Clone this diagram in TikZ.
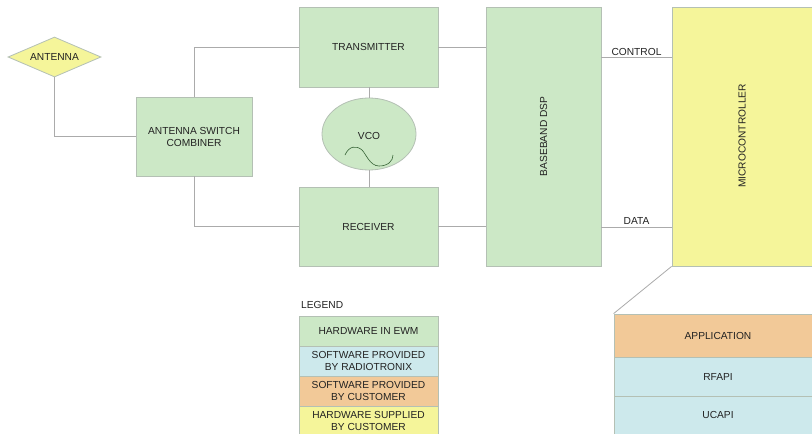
\documentclass[tikz,border=0pt]{standalone}
\usepackage{fontspec}
\setmainfont{Liberation Sans}
\usetikzlibrary{shapes.geometric}
\definecolor{hwgreen}{HTML}{CCE8C6}
\definecolor{hwyellow}{HTML}{F5F59A}
\definecolor{swblue}{HTML}{CDE9EC}
\definecolor{sworange}{HTML}{F2C998}
\definecolor{edge}{HTML}{B4C0B4}
\definecolor{wire}{HTML}{ABABAB}
\definecolor{txt}{HTML}{222222}
\tikzset{
  blk/.style={draw=edge, line width=0.8pt, inner sep=0pt, align=center, text=txt,
    font=\fontsize{10.2}{12}\selectfont},
  lbl/.style={inner sep=0pt, text=txt, font=\fontsize{10.2}{12}\selectfont, align=center},
  wireln/.style={draw=wire, line width=0.8pt},
}
\begin{document}
\begin{tikzpicture}[x=1pt,y=-1pt]
\clip (0,0) rectangle (812,434);
\fill[white] (0,0) rectangle (812,434);
% antenna
\node[blk, diamond, aspect=2.35, fill=hwyellow, minimum width=93, minimum height=40] (ant) at (54.5,57) {ANTENNA};
\node[blk, fill=hwgreen, minimum width=116, minimum height=79] (asc) at (194,136.5) {ANTENNA SWITCH\\COMBINER};
\node[blk, fill=hwgreen, minimum width=139, minimum height=80] (tx) at (368.5,47) {TRANSMITTER};
\node[blk, fill=hwgreen, minimum width=139, minimum height=79] (rx) at (368.5,226.5) {RECEIVER};
\node[blk, ellipse, fill=hwgreen, minimum width=94, minimum height=72] (vco) at (369,134) {};
\node[lbl] (vcot) at (369,136) {VCO};
\node[blk, fill=hwgreen, minimum width=115, minimum height=259] (dsp) at (543.5,136.5) {};
\node[lbl, rotate=90] (dspt) at (543.5,136.5) {BASEBAND DSP};
\node[blk, fill=hwyellow, minimum width=146, minimum height=259] (mcu) at (745,136.5) {};
\node[lbl, rotate=90] (mcut) at (742,136) {MICROCONTROLLER};
% stack
\node[blk, fill=sworange, minimum width=204, minimum height=43] (app) at (716,335.5) {};
\node[lbl] (appt) at (718,335.5) {APPLICATION};
\node[blk, fill=swblue, minimum width=204, minimum height=39] (rfapi) at (716,376.5) {};
\node[lbl] (rfapit) at (718,376.5) {RFAPI};
\node[blk, fill=swblue, minimum width=204, minimum height=44] (ucapi) at (716,418) {};
\node[lbl] (ucapit) at (718,415) {UCAPI};
% legend
\node[lbl, anchor=west] (leg) at (301,305) {LEGEND};
\node[blk, fill=hwgreen, minimum width=139, minimum height=30] (l1) at (368.5,331) {HARDWARE IN EWM};
\node[blk, fill=swblue, minimum width=139, minimum height=30] (l2) at (368.5,361) {SOFTWARE PROVIDED\\BY RADIOTRONIX};
\node[blk, fill=sworange, minimum width=139, minimum height=30] (l3) at (368.5,391) {SOFTWARE PROVIDED\\BY CUSTOMER};
\node[blk, fill=hwyellow, minimum width=139, minimum height=30] (l4) at (368.5,421) {HARDWARE SUPPLIED\\BY CUSTOMER};
% wires
\draw[wireln] (ant.south) |- (asc.west);
\draw[wireln] (asc.north) |- (tx.west);
\draw[wireln] (asc.south) |- (rx.west);
\draw[wireln] (tx.south -| vco.north) -- (vco.north);
\draw[wireln] (vco.south) -- (rx.north -| vco.south);
\draw[wireln] (tx.east) -- (tx.east -| dsp.west);
\draw[wireln] (rx.east) -- (rx.east -| dsp.west);
\coordinate (c1) at (601,57);
\coordinate (c2) at (672,57);
\coordinate (d1) at (601,227);
\coordinate (d2) at (672,227);
\draw[wireln] (c1) -- (c2) node[lbl, midway, above=1.5pt] {CONTROL};
\draw[wireln] (d1) -- (d2) node[lbl, midway, above=2.5pt] {DATA};
\draw[wireln] (mcu.south west) -- (app.north west);
% VCO wave
\draw[draw=gray!70!green!60!black, line width=0.6pt] (345,155) .. controls (349,146) and (356,145) .. (362,150)
  .. controls (366,154) and (370,166) .. (379,166) .. controls (388,166) and (393,161) .. (393,155);
\end{tikzpicture}
\end{document}
